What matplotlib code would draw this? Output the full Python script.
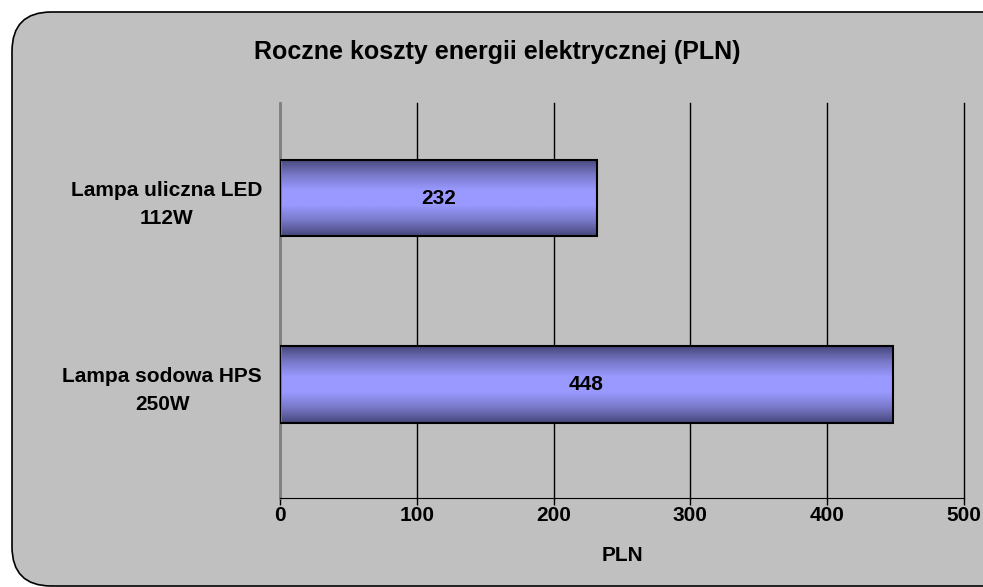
import numpy as np
import matplotlib.pyplot as plt
from matplotlib.patches import FancyBboxPatch
from matplotlib.colors import LinearSegmentedColormap

# dane
categories = ['Lampa sodowa HPS\n250W', 'Lampa uliczna LED\n112W']
values = [448, 232]
xticks = [0, 100, 200, 300, 400, 500]

plt.rcParams['font.family'] = ['Liberation Sans', 'DejaVu Sans']
plt.rcParams['font.weight'] = 'bold'

fig = plt.figure(figsize=(9.83, 5.87), dpi=100)
fig.patch.set_facecolor('white')

# zaokraglone tlo
W, H = 983, 587
box = FancyBboxPatch((12 / W, 1 / H), 1.2, 1 - 13 / H,
                     boxstyle='round,pad=0,rounding_size=0.04',
                     transform=fig.transFigure, facecolor='#c0c0c0',
                     edgecolor='black', linewidth=1.2, mutation_aspect=W / H, zorder=-10)
fig.patches.append(box)

ax = fig.add_axes([280 / W, 1 - 498 / H, (964 - 280) / W, (498 - 103) / H])
ax.set_facecolor('none')

ypos = np.arange(len(categories))
bars = ax.barh(ypos, values, height=0.41, color='none', edgecolor='black', linewidth=1.5, zorder=3)

cmap = LinearSegmentedColormap.from_list('g', ['#46467a', '#7878c8', '#9999ff', '#9999ff', '#7878c8', '#46467a'])
grad = np.linspace(0, 1, 256).reshape(-1, 1)
for b, v in zip(bars, values):
    x0, y0 = b.get_x(), b.get_y()
    im = ax.imshow(grad, cmap=cmap, aspect='auto', extent=[x0, x0 + b.get_width(), y0, y0 + b.get_height()],
                   zorder=2, interpolation='bilinear')
    ax.text(v / 2, b.get_y() + b.get_height() / 2, str(v), ha='center', va='center',
            fontsize=15, fontweight='bold', zorder=4)

ax.set_xlim(0, 500)
ax.set_ylim(-0.61, 1.51)
ax.set_xticks(xticks)
ax.set_yticks(ypos)
ax.set_yticklabels(categories, fontsize=15, fontweight='bold', multialignment='center', linespacing=1.6)
ax.tick_params(axis='y', length=0, pad=13)
ax.tick_params(axis='x', length=5, width=1, labelsize=15, pad=1, direction='out')
ax.xaxis.grid(True, color='black', linewidth=1)
for gl in ax.get_xgridlines():
    gl.set_clip_on(False)
ax.set_axisbelow(True)
for s in ['top', 'right']:
    ax.spines[s].set_visible(False)
ax.spines['left'].set_color('#808080')
ax.spines['left'].set_linewidth(2)
ax.spines['bottom'].set_color('black')
ax.set_xlabel('PLN', fontsize=15, fontweight='bold', labelpad=15)

fig.text(497.5 / W, 1 - 52 / H, 'Roczne koszty energii elektrycznej (PLN)', ha='center', va='center',
         fontsize=18, fontweight='bold')

plt.savefig('out.png', dpi=100)
